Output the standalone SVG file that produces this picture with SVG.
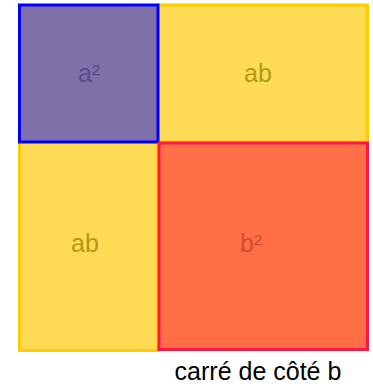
<svg xmlns="http://www.w3.org/2000/svg" width="373" height="387" viewBox="0 0 373 387">
<style>
text{font-family:"Liberation Sans",Arial,sans-serif;font-size:25px;text-anchor:middle}
.y{fill:#FFDA55;stroke:#FFCC00;stroke-width:3}
.ty{fill:#B09A14}
</style>
<rect width="373" height="387" fill="#fff"/>
<g id="ab-top">
<rect class="y" x="158" y="5" width="209.5" height="137"/>
<text class="ty" x="258" y="82">ab</text>
</g>
<g id="ab-left">
<rect class="y" x="19.5" y="142" width="138.5" height="208.5"/>
<text class="ty" x="85" y="252">ab</text>
</g>
<g id="a2">
<rect x="19.5" y="5" width="138.5" height="137" fill="#8070AA" stroke="#0000FF" stroke-width="3"/>
<text x="89" y="82" fill="#5A4D8C">a²</text>
</g>
<g id="b2">
<rect x="159" y="143" width="208.5" height="206.5" fill="#FF6E44" stroke="#FF1744" stroke-width="3"/>
<text x="251" y="252" fill="#CC5030">b²</text>
</g>
<text x="258" y="380" fill="#000">carré de côté b</text>
</svg>
